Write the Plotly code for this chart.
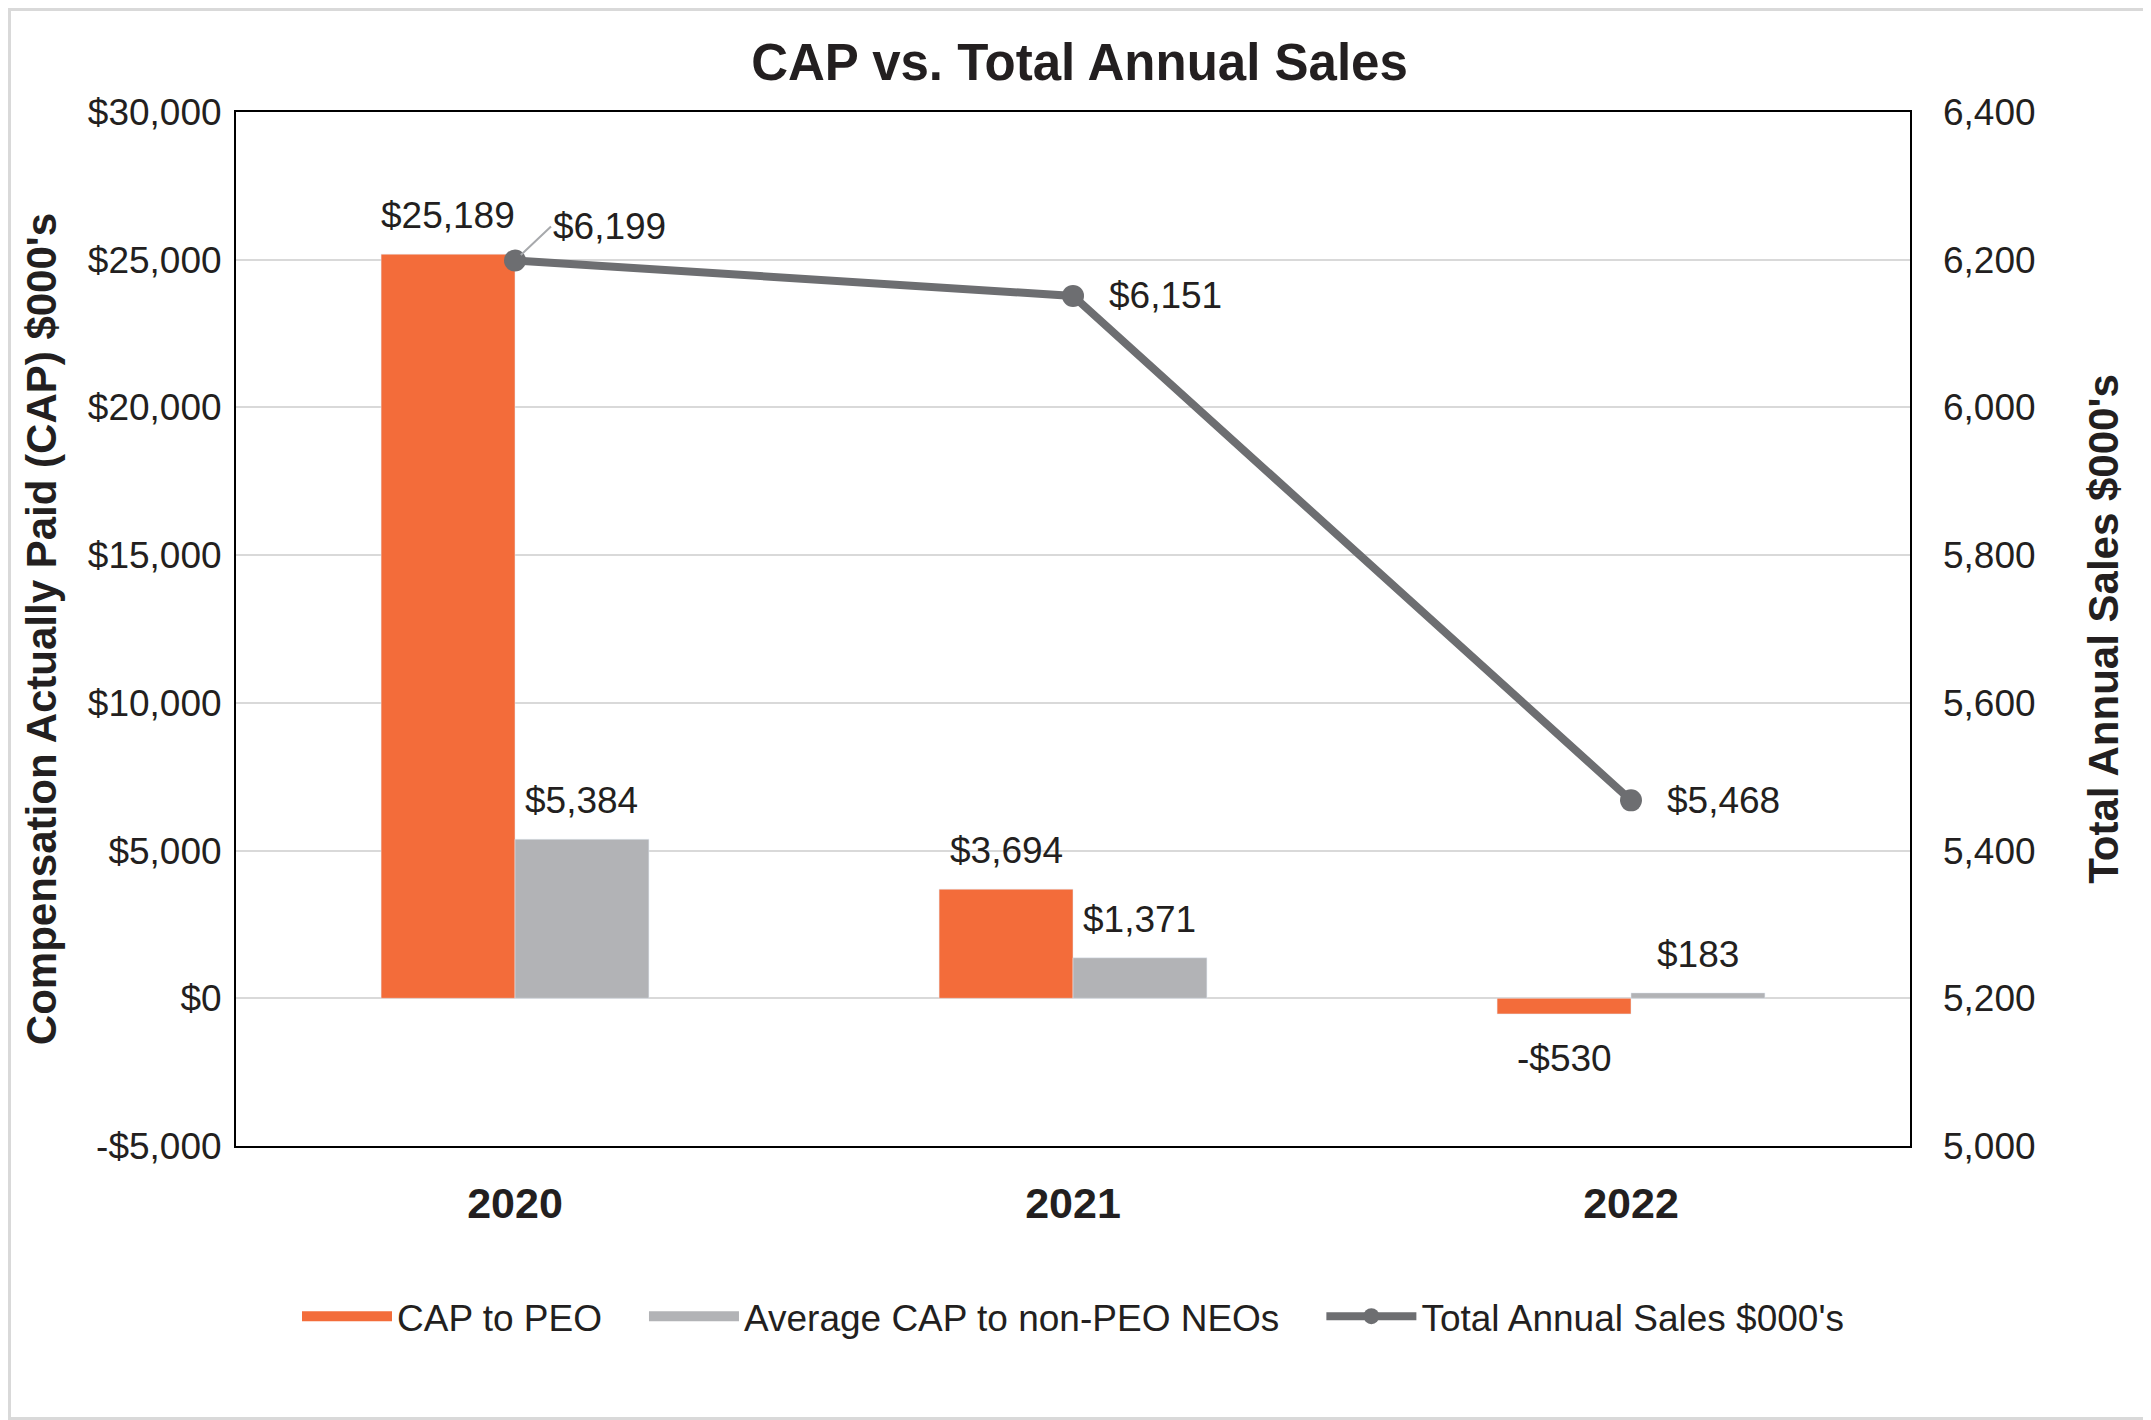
import plotly.graph_objects as go

# data
years = ['2020', '2021', '2022']
cap_peo = [25189, 3694, -530]
cap_neo = [5384, 1371, 183]
sales = [6199, 6151, 5468]

left_ticks = [-5000, 0, 5000, 10000, 15000, 20000, 25000, 30000]
left_labels = ['-$5,000', '$0', '$5,000', '$10,000', '$15,000', '$20,000', '$25,000', '$30,000']
right_ticks = [5000, 5200, 5400, 5600, 5800, 6000, 6200, 6400]
right_labels = ['5,000', '5,200', '5,400', '5,600', '5,800', '6,000', '6,200', '6,400']

orange = '#F36C3A'
grey_bar = '#B2B3B6'
grey_line = '#6D6E71'
txt = '#231F20'
fnt = 'Liberation Sans, Arial, sans-serif'
gap = '\u2003'  # spacing between legend entries
bargap = 0.52


def money(v):
    if v < 0:
        return '-${:,}'.format(abs(v))
    return '${:,}'.format(v)


fig = go.Figure()
fig.add_trace(go.Bar(x=years, y=cap_peo, name='CAP to PEO', marker_color=orange,
                     showlegend=False))
fig.add_trace(go.Bar(x=years, y=cap_neo, name='Average CAP to non-PEO NEOs', marker_color=grey_bar,
                     showlegend=False))
fig.add_trace(go.Scatter(x=years, y=sales, name="Total Annual Sales $000's", yaxis='y2',
                         mode='lines+markers', line=dict(color=grey_line, width=8),
                         marker=dict(size=22, color=grey_line), cliponaxis=False,
                         showlegend=False))

# legend entries (wide swatches like the original)
fig.add_trace(go.Scatter(x=[None], y=[None], mode='lines', name='CAP to PEO' + gap,
                         line=dict(color=orange, width=20)))
fig.add_trace(go.Scatter(x=[None], y=[None], mode='lines', name='Average CAP to non-PEO NEOs' + gap,
                         line=dict(color=grey_bar, width=20)))
fig.add_trace(go.Scatter(x=[None], y=[None], mode='lines+markers', name="Total Annual Sales $000's",
                         line=dict(color=grey_line, width=8), marker=dict(size=18, color=grey_line)))

# bar value labels (bar centres sit a quarter of the group width off the category)
off = (1 - bargap) / 4
for i in range(len(years)):
    for vals, dx in ((cap_peo, -off), (cap_neo, off)):
        v = vals[i]
        fig.add_annotation(x=i + dx, y=v, text=money(v), showarrow=False,
                           yanchor='bottom' if v >= 0 else 'top',
                           yshift=16 if v >= 0 else -22,
                           font=dict(size=37, color=txt, family=fnt))

# labels on the sales line (x given as category index)
for i, v in enumerate(sales):
    if i == 0:
        fig.add_annotation(x=i, y=v, yref='y2', text=money(v), showarrow=True,
                           arrowhead=0, arrowcolor='#A7A9AC', arrowwidth=2,
                           ax=36, ay=-34, xanchor='left', standoff=8,
                           font=dict(size=37, color=txt, family=fnt))
    else:
        fig.add_annotation(x=i, y=v, yref='y2', text=money(v), showarrow=False,
                           xanchor='left', xshift=34,
                           font=dict(size=37, color=txt, family=fnt))

fig.update_layout(
    width=2143, height=1412,
    paper_bgcolor='white', plot_bgcolor='white',
    font=dict(family=fnt, size=37, color=txt),
    title=dict(text='<b>CAP vs. Total Annual Sales</b>', x=0.5, xanchor='center',
               y=0.962, yanchor='middle', font=dict(size=51, color=txt)),
    margin=dict(l=228, r=241, t=104, b=274),
    barmode='group', bargap=bargap, bargroupgap=0,
    legend=dict(orientation='h', x=0.5, xanchor='center', y=-0.165, yanchor='middle',
                font=dict(size=37, color=txt), itemwidth=90, traceorder='normal'),
    xaxis=dict(type='category', range=[-0.5, 2.5], autorange=False,
               showline=True, linecolor='black', linewidth=2, mirror=True,
               tickfont=dict(size=43, color=txt, weight='bold'),
               ticklabelstandoff=18, ticks=''),
    yaxis=dict(range=[-5000, 30000], tickvals=left_ticks, ticktext=left_labels,
               showgrid=True, gridcolor='#D9D9D9', gridwidth=2, zeroline=False,
               showline=True, linecolor='black', linewidth=2, mirror=True,
               ticks='', ticklabelstandoff=5, tickfont=dict(size=37),
               title=dict(text="<b>Compensation Actually Paid (CAP) $000's</b>",
                          font=dict(size=42), standoff=18)),
    yaxis2=dict(range=[5000, 6400], tickvals=right_ticks, ticktext=right_labels,
                overlaying='y', side='right', showgrid=False, zeroline=False,
                ticks='', ticklabelstandoff=32, tickfont=dict(size=37),
                title=dict(text="<b>Total Annual Sales $000's</b>",
                           font=dict(size=42), standoff=54)),
)

# light grey frame around the whole picture
fig.add_shape(type='rect', xref='paper', yref='paper',
              x0=-228 / 1674, x1=1 + 241 / 1674, y0=-274 / 1034, y1=1 + 104 / 1034,
              line=dict(color='#D9D9D9', width=6), layer='below')

fig.write_html("out.html")
